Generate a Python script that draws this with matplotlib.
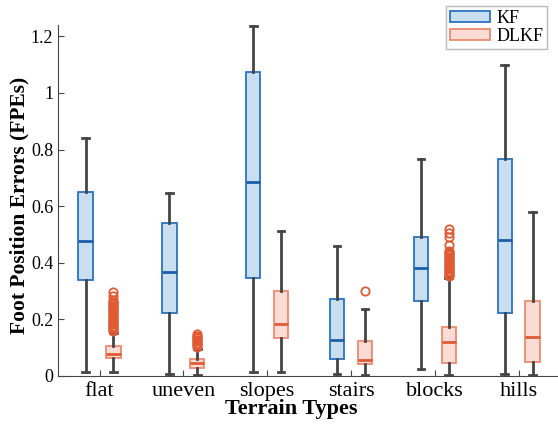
import numpy as np
import matplotlib
matplotlib.use("Agg")
import matplotlib.pyplot as plt
from matplotlib.patches import Patch
from matplotlib.ticker import FormatStrFormatter

plt.rcParams['font.family'] = ['Liberation Serif', 'DejaVu Serif']

terrains = ['flat', 'uneven', 'slopes', 'stairs', 'blocks', 'hills']

# box stats: whislo, q1, med, q3, whishi
kf_stats = [
    [0.014, 0.339, 0.478, 0.650, 0.841],
    [0.008, 0.224, 0.366, 0.541, 0.647],
    [0.014, 0.348, 0.686, 1.075, 1.237],
    [0.008, 0.060, 0.128, 0.271, 0.461],
    [0.025, 0.264, 0.382, 0.492, 0.766],
    [0.008, 0.221, 0.481, 0.765, 1.100],
]
dlkf_stats = [
    [0.014, 0.064, 0.077, 0.107, 0.152],
    [0.005, 0.029, 0.045, 0.061, 0.097],
    [0.014, 0.133, 0.185, 0.301, 0.513],
    [0.002, 0.042, 0.058, 0.125, 0.238],
    [0.005, 0.047, 0.121, 0.174, 0.345],
    [0.005, 0.049, 0.137, 0.266, 0.580],
]
kf_fliers = [[], [], [], [], [], []]
dlkf_fliers = [
    [0.158, 0.163, 0.168, 0.173, 0.178, 0.183, 0.188, 0.193, 0.198, 0.203,
     0.208, 0.213, 0.218, 0.223, 0.228, 0.233, 0.238, 0.243, 0.248, 0.253,
     0.258, 0.263, 0.268, 0.283, 0.298],
    [0.103, 0.108, 0.113, 0.118, 0.123, 0.128, 0.133, 0.138, 0.143, 0.148],
    [],
    [0.300],
    [0.352, 0.357, 0.362, 0.367, 0.372, 0.377, 0.382, 0.387, 0.392, 0.397,
     0.402, 0.407, 0.412, 0.417, 0.422, 0.427, 0.432, 0.437, 0.442,
     0.462, 0.490, 0.505, 0.520],
    [],
]


def make_stats(rows, fliers):
    out = []
    for r, f in zip(rows, fliers):
        out.append(dict(whislo=r[0], q1=r[1], med=r[2], q3=r[3], whishi=r[4], fliers=f))
    return out


fig = plt.figure(figsize=(5.58, 4.28), dpi=100)
ax = fig.add_axes([0.104, 0.1215, 0.896, 0.82])

pos = np.arange(1, len(terrains) + 1)
off = 0.166
wd = 0.17
grey = '#454545'

styles = [
    (kf_stats, kf_fliers, -off, '#c9dff0', '#2a72c4', '#1a5fa8'),
    (dlkf_stats, dlkf_fliers, off, '#fadcd5', '#ec8a70', '#e05a33'),
]
for stats, fl, dx, face, edge, medc in styles:
    ax.bxp(make_stats(stats, fl), positions=pos + dx, widths=wd,
           capwidths=0.08, patch_artist=True, manage_ticks=False,
           boxprops=dict(facecolor=face, edgecolor=edge, linewidth=1.3),
           medianprops=dict(color=medc, linewidth=2),
           whiskerprops=dict(color=grey, linewidth=2),
           capprops=dict(color=grey, linewidth=2),
           flierprops=dict(marker='o', markersize=6, markerfacecolor='none',
                           markeredgecolor='#e05a33', markeredgewidth=1.3))

ax.set_xlim(0.505, 6.47)
ax.set_ylim(0, 1.24)
ax.set_xticks(pos)
ax.set_xticklabels(terrains, fontsize=16)
ax.set_yticks([0, 0.2, 0.4, 0.6, 0.8, 1.0, 1.2])
ax.yaxis.set_major_formatter(FormatStrFormatter('%g'))
ax.tick_params(axis='y', direction='in', length=4, labelsize=13, colors=grey, labelcolor='black')
ax.tick_params(axis='x', direction='in', length=4, colors=grey, labelcolor='black', pad=4)
ax.spines['top'].set_visible(False)
ax.spines['right'].set_visible(False)
ax.spines['left'].set_color(grey)
ax.spines['bottom'].set_color(grey)

ax.set_xlabel('Terrain Types', fontsize=16, fontweight='bold')
ax.xaxis.set_label_coords(0.466, -0.065)
ax.set_ylabel('Foot Position Errors (FPEs)', fontsize=15.5, fontweight='bold')
ax.yaxis.set_label_coords(-0.058, 0.487)

handles = [Patch(facecolor='#c9dff0', edgecolor='#2a72c4', linewidth=1.3, label='KF'),
           Patch(facecolor='#fadcd5', edgecolor='#ec8a70', linewidth=1.3, label='DLKF')]
fig.legend(handles=handles, loc='upper right', bbox_to_anchor=(0.981, 0.985),
           fontsize=13, frameon=True, fancybox=False, edgecolor='#aaaaaa',
           handlelength=2.2, handleheight=0.6, borderpad=0.2, labelspacing=0.05,
           handletextpad=0.4, borderaxespad=0.0)

fig.savefig('out.png', dpi=100)
